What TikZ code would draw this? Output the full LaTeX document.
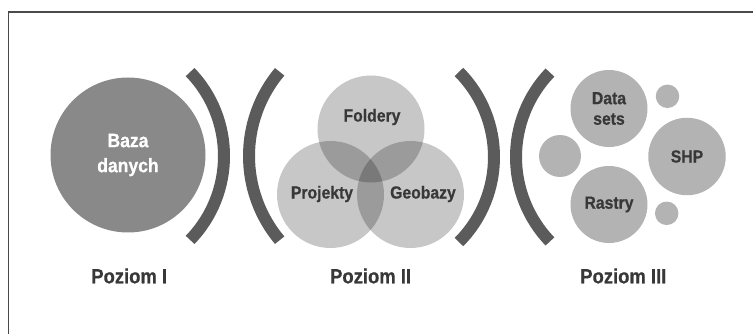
\documentclass[tikz,border=0pt]{standalone}
\usepackage{fontspec}
\newfontfamily\lblfont{Liberation Sans}[UprightFont={* Bold}, FakeStretch=0.9, FakeBold=0.6]
\definecolor{framec}{HTML}{4A4A4A}
\definecolor{arcc}{HTML}{5B5B5B}
\definecolor{bigc}{HTML}{898989}
\definecolor{smallc}{HTML}{B3B3B3}
\definecolor{txtc}{HTML}{383838}
\tikzset{
  bracket/.style={draw=arcc, line width=12pt, line cap=butt},
  venn/.style={circle, inner sep=0pt, minimum size=107pt, fill=black, fill opacity=0.22},
  ball/.style={circle, inner sep=0pt, fill=smallc, text=txtc, font=\lblfont\fontsize{17.5}{20.5}\selectfont, align=center},
  inlbl/.style={text=txtc, font=\lblfont\fontsize{17.5}{20.5}\selectfont, align=center, inner sep=0pt},
  lvl/.style={text=txtc, font=\lblfont\fontsize{20.5}{24}\selectfont, anchor=base, inner sep=0pt}
}
\begin{document}
\begin{tikzpicture}[x=1pt,y=-1pt]
\useasboundingbox (0,0) rectangle (753,334);
% frame
\draw[framec, line width=1.3pt] (8.3,340) -- (8.3,12) -- (760,12);
% level I
\node[circle, inner sep=0pt, minimum size=155pt, fill=bigc, text=white,
  font=\lblfont\fontsize{19.5}{25}\selectfont, align=center] (baza) at (128,155) {Baza\\danych};
% brackets
\coordinate (c1) at (103.2,156);
\coordinate (c2) at (380,156);
\coordinate (c3) at (373.3,157);
\coordinate (c4) at (638,157);
\draw[bracket] (c1) ++(44:120.8pt) arc[start angle=44, end angle=-44, radius=120.8pt];
\draw[bracket] (c2) ++(140:131pt) arc[start angle=140, end angle=220, radius=131pt];
\draw[bracket] (c3) ++(44.8:120.7pt) arc[start angle=44.8, end angle=-44.8, radius=120.7pt];
\draw[bracket] (c4) ++(136.2:122pt) arc[start angle=136.2, end angle=223.8, radius=122pt];
% level II
\node[venn] (fold) at (371,129) {};
\node[venn] (proj) at (330.5,194.5) {};
\node[venn] (geo) at (410.5,194.5) {};
\node[inlbl] (tfold) at (372,117) {Foldery};
\node[inlbl] (tproj) at (322,194) {Projekty};
\node[inlbl] (tgeo) at (423,194) {Geobazy};
% level III
\node[ball, minimum size=77pt] (data) at (609,108.5) {Data\\sets};
\node[ball, minimum size=77pt] (rast) at (609,204.5) {Rastry};
\node[ball, minimum size=77.5pt] (shp) at (687,156.5) {SHP};
\node[ball, minimum size=42pt] (s1) at (560,156) {};
\node[ball, minimum size=23.5pt] (s2) at (667.5,96.3) {};
\node[ball, minimum size=23.5pt] (s3) at (666.7,213.3) {};
% level labels
\node[lvl] (p1) at (129.2,283.3) {Poziom I};
\node[lvl] (p2) at (370.6,283.3) {Poziom II};
\node[lvl] (p3) at (623.3,283.3) {Poziom III};
\end{tikzpicture}
\end{document}
